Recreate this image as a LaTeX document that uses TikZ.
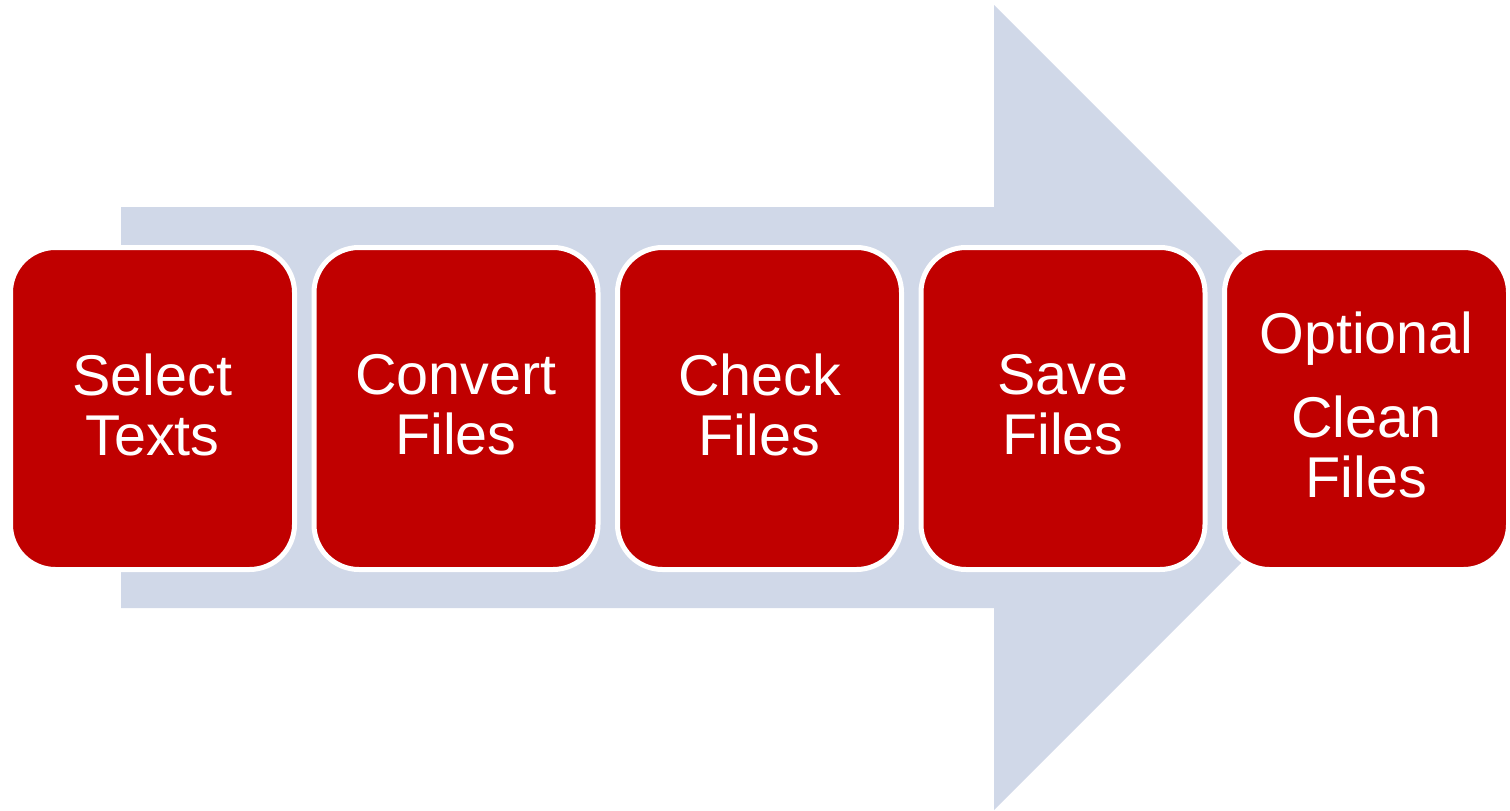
\documentclass[tikz,border=0pt]{standalone}
\usepackage{fontspec}
\setmainfont{Liberation Sans}
\definecolor{stepred}{HTML}{C00000}
\definecolor{flowblue}{HTML}{D0D8E8}
\tikzset{
  stepbox/.style={
    rectangle, rounded corners=45pt, fill=stepred, draw=white, line width=5pt,
    minimum width=284pt, minimum height=322pt, inner sep=0pt
  },
  steptext/.style={
    text=white, align=center, inner sep=0pt, yshift=4pt,
    font=\fontsize{57.5}{60}\selectfont
  }
}
\begin{document}
\begin{tikzpicture}[x=1pt,y=-1pt]
  \useasboundingbox (0,0) rectangle (1510,811);
  % broad process arrow behind the steps
  \fill[flowblue] (121,207) -- (994,207) -- (994,5) -- (1396.5,407.5)
    -- (994,810) -- (994,608) -- (121,608) -- cycle;
  % process steps
  \node[stepbox] (s1) at (152.5,408.5) {};
  \node[stepbox] (s2) at (456,408.5) {};
  \node[stepbox] (s3) at (759.5,408.5) {};
  \node[stepbox] (s4) at (1063,408.5) {};
  \node[stepbox] (s5) at (1366.5,408.5) {};
  % step captions
  \node[steptext] (t1) at (s1.center) {Select\\Texts};
  \node[steptext] (t2) at (s2.center) {Convert\\Files};
  \node[steptext] (t3) at (s3.center) {Check\\Files};
  \node[steptext] (t4) at (s4.center) {Save\\Files};
  \node[steptext] (t5) at (s5.center) {Optional\\[24pt]Clean\\Files};
\end{tikzpicture}
\end{document}
